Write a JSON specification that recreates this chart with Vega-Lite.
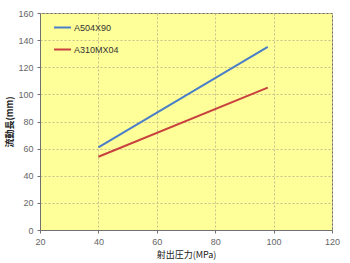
{
  "$schema": "https://vega.github.io/schema/vega-lite/v6.json",
  "width": 292,
  "height": 217,
  "autosize": "none",
  "padding": {"left": 40, "top": 13, "right": 18, "bottom": 33},
  "background": "#ffffff",
  "config": {
    "view": {"fill": "#FFFF99", "stroke": "#707070", "strokeWidth": 1},
    "axis": {
      "labelFont": "Liberation Sans",
      "labelFontSize": 9,
      "labelColor": "#666666",
      "titleFont": "Noto Sans CJK JP",
      "titleFontSize": 9,
      "titleColor": "#222222",
      "domainColor": "#707070",
      "tickColor": "#707070",
      "gridColor": "#C8C08C",
      "gridDash": [2, 2],
      "gridWidth": 1
    }
  },
  "data": {
    "values": [
      {"pressure": 40, "length": 61, "series": "A504X90"},
      {"pressure": 98, "length": 135, "series": "A504X90"},
      {"pressure": 40, "length": 54, "series": "A310MX04"},
      {"pressure": 98, "length": 105, "series": "A310MX04"}
    ]
  },
  "mark": {"type": "line", "strokeWidth": 2},
  "encoding": {
    "x": {
      "field": "pressure",
      "type": "quantitative",
      "scale": {"domain": [20, 120], "nice": false, "zero": false},
      "axis": {
        "values": [20, 40, 60, 80, 100, 120],
        "title": "射出圧力(MPa)",
        "titleFontWeight": "normal",
        "titlePadding": 4,
        "labelPadding": 4,
        "tickSize": 3,
        "labelFlush": false
      }
    },
    "y": {
      "field": "length",
      "type": "quantitative",
      "scale": {"domain": [0, 160], "nice": false},
      "axis": {
        "values": [0, 20, 40, 60, 80, 100, 120, 140, 160],
        "title": "流動長(mm)",
        "titleFontWeight": "bold",
        "titlePadding": 3,
        "labelPadding": 4,
        "tickSize": 3
      }
    },
    "color": {
      "field": "series",
      "type": "nominal",
      "scale": {"domain": ["A504X90", "A310MX04"], "range": ["#4A7EC8", "#C8413E"]},
      "legend": {
        "title": null,
        "orient": "none",
        "legendX": 13,
        "legendY": 5,
        "symbolType": "stroke",
        "symbolSize": 289,
        "symbolStrokeWidth": 2,
        "labelFont": "Liberation Sans",
        "labelFontSize": 9,
        "labelColor": "#333333",
        "labelOffset": 2,
        "rowPadding": 7
      }
    }
  }
}
